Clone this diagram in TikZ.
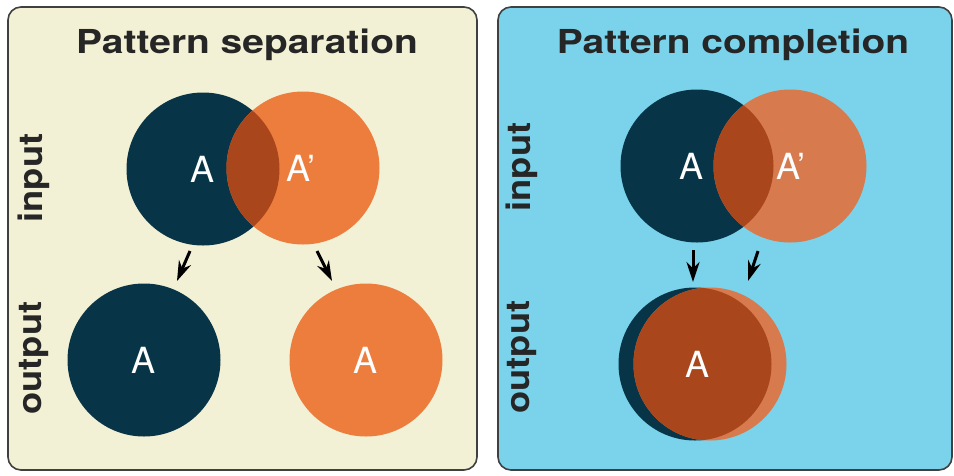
\documentclass[tikz,border=0pt]{standalone}
\usepackage{fontspec}
\setmainfont{TeX Gyre Heros}
\newfontfamily\titlefont[FakeStretch=1.18]{TeX Gyre Heros}
\newfontfamily\sidefont[FakeStretch=1.1]{TeX Gyre Heros}
\usetikzlibrary{arrows.meta, positioning}
\definecolor{cream}{HTML}{F3F1D5}
\definecolor{sky}{HTML}{7AD3EA}
\definecolor{navy}{HTML}{083448}
\definecolor{orng}{HTML}{ED7D3D}
\definecolor{orngpale}{HTML}{D77A4E}
\definecolor{rust}{HTML}{A9461B}
\tikzset{x=1pt, y=-1pt,
    panel/.style={draw=black!75, line width=1.6pt, rounded corners=13pt},
    disc/.style={circle, inner sep=0pt, minimum size=153pt},
    title/.style={font=\titlefont\fontsize{33}{33}\selectfont\bfseries, text=black!85},
    side/.style={font=\sidefont\fontsize{33}{33}\selectfont\bfseries, rotate=90, text=black!85},
    letter/.style={font=\fontsize{36}{36}\selectfont, text=white},
    arr/.style={line width=3pt, -{Stealth[length=20pt, width=13pt]}},
    textnode/.style={}}
\begin{document}
\begin{tikzpicture}
\useasboundingbox (0,0) rectangle (954,475);

% left panel
\draw[panel, fill=cream] (8,7) rectangle (477,470);
\node[title] (t1) at (247,45) {Pattern separation};
\node[side]  (i1) at (34,178) {input};
\node[side]  (o1) at (34,358) {output};

\node[disc, fill=navy] (a)  at (203,169) {};
\node[disc, fill=orng] (b)  at (303,168) {};
\begin{scope}
  \clip (203,169) circle (76.5pt);
  \fill[rust] (303,168) circle (76.5pt);
\end{scope}
\node[disc, fill=navy] (c)  at (144,360) {};
\node[disc, fill=orng] (d)  at (366,360) {};

\node[letter] at (a) {A};
\node[letter] at (b) [xshift=-2pt] {A'};
\node[letter] at (c) {A};
\node[letter] at (d) {A};

\coordinate (p1) at (190,251);
\coordinate (q1) at (177,281);
\coordinate (p2) at (317,251);
\coordinate (q2) at (332,281);
\draw[arr] (p1) -- (q1);
\draw[arr] (p2) -- (q2);

% right panel
\draw[panel, fill=sky] (498,7) rectangle (952,470);
\node[title] (t2) at (733,45) {Pattern completion};
\node[side]  (i2) at (522,167) {input};
\node[side]  (o2) at (522,357) {output};

\node[disc, fill=navy]     (e)  at (697,166) {};
\node[disc, fill=orngpale] (f)  at (790,166) {};
\begin{scope}
  \clip (697,166) circle (76.5pt);
  \fill[rust] (790,166) circle (76.5pt);
\end{scope}
\node[disc, fill=navy]     (g)  at (695,364) {};
\node[disc, fill=orngpale] (h)  at (710,364) {};
\begin{scope}
  \clip (695,364) circle (76.5pt);
  \fill[rust] (710,364) circle (76.5pt);
\end{scope}

\node[letter] at (e) [xshift=-5pt] {A};
\node[letter] at (f) [xshift=1pt] {A'};
\node[letter] at (g) [xshift=3pt] {A};

\coordinate (p3) at (693,250);
\coordinate (q3) at (693,282);
\coordinate (p4) at (758,251);
\coordinate (q4) at (748,281);
\draw[arr] (p3) -- (q3);
\draw[arr] (p4) -- (q4);
\end{tikzpicture}
\end{document}
